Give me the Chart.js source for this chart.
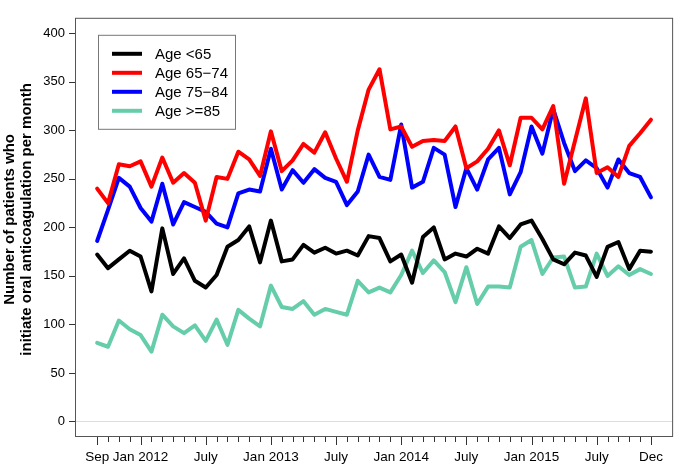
<!DOCTYPE html>
<html>
<head>
<meta charset="utf-8">
<script src="https://cdn.jsdelivr.net/npm/chart.js@4/dist/chart.umd.min.js"></script>
<style>
  html, body { margin: 0; padding: 0; background: #fff; }
</style>
</head>
<body>
<canvas id="myChart" width="675" height="464"></canvas>
<script>
// Monthly counts, Sep 2011 .. Dec 2015 (52 months)
var ageUnder65 = [172,158,167,176,170,134,199,152,168,145, 138,151,180,187,201,164,207,165,167,182,
                  174,179,173,176,171,191,189,165,172,143, 190,200,167,173,170,178,173,201,189,203,
                  207,188,167,162,174,171,149,180,185,157, 176,175];
var age65to74 = [240,225,265,263,268,242,272,246,256,246, 207,252,250,278,270,253,299,258,269,286,
                 277,298,271,247,300,342,363,301,304,283, 289,290,289,304,261,268,281,300,264,313,
                 313,301,325,245,289,333,256,262,252,284, 297,311];
var age75to84 = [186,218,251,242,220,206,245,203,226,221, 216,204,200,235,239,237,281,239,259,246,
                 260,251,247,223,237,275,252,249,306,241, 247,282,275,221,261,239,270,282,234,257,
                 304,276,322,287,258,269,261,241,270,256, 252,231];
var age85plus = [81,77,104,95,89,72,110,98,91,99, 83,105,79,115,106,98,140,118,116,124,
                 110,116,113,110,145,133,138,133,151,176, 153,166,154,123,159,121,139,139,138,180,
                 187,152,169,170,138,139,173,150,160,151, 157,152];

var seriesNames = ['Age <65', 'Age 65\u221274', 'Age 75\u221284', 'Age >=85'];
var seriesColors = ['#000000', '#ff0000', '#0000ff', '#66cdaa'];

// month index of labelled ticks (0 = Sep 2011)
var tickMonths = [0, 4, 10, 16, 22, 28, 34, 40, 46, 51];
var tickLabels = ['Sep', 'Jan 2012', 'July', 'Jan 2013', 'July', 'Jan 2014', 'July', 'Jan 2015', 'July', 'Dec'];
var yTicks = [0, 50, 100, 150, 200, 250, 300, 350, 400];

var FONT = '"Liberation Sans", Arial, sans-serif';

function pts(arr) {
    return arr.map(function (v, i) { return { x: i, y: v }; });
}

var allSeries = [ageUnder65, age65to74, age75to84, age85plus];

// box, tick marks, axis title and legend
var decorations = {
    id: 'decorations',
    afterDraw: function (chart) {
        var ctx = chart.ctx;
        var a = chart.chartArea;
        var xs = chart.scales.x, ys = chart.scales.y;
        ctx.save();
        ctx.strokeStyle = '#555';
        ctx.lineWidth = 1;
        ctx.strokeRect(a.left + 0.5, a.top + 0.5, a.right - a.left - 1, a.bottom - a.top - 1);

        // x ticks: long for labelled months, short for the others
        ctx.strokeStyle = '#333';
        ageUnder65.forEach(function (v, i) {
            var px = Math.round(xs.getPixelForValue(i)) + 0.5;
            var len = tickMonths.indexOf(i) >= 0 ? 8 : 5;
            ctx.beginPath();
            ctx.moveTo(px, a.bottom);
            ctx.lineTo(px, a.bottom + len);
            ctx.stroke();
        });
        // y ticks
        yTicks.forEach(function (v) {
            var py = Math.round(ys.getPixelForValue(v)) + 0.5;
            ctx.beginPath();
            ctx.moveTo(a.left - 6, py);
            ctx.lineTo(a.left, py);
            ctx.stroke();
        });

        // y axis title
        ctx.fillStyle = '#000';
        ctx.font = 'bold 15px ' + FONT;
        ctx.textAlign = 'center';
        ctx.textBaseline = 'middle';
        var cy = (a.top + a.bottom) / 2 - 8;
        ctx.save();
        ctx.translate(10, cy);
        ctx.rotate(-Math.PI / 2);
        ctx.fillText('Number of patients who', 0, 0);
        ctx.restore();
        ctx.save();
        ctx.translate(27, cy);
        ctx.rotate(-Math.PI / 2);
        ctx.fillText('initiate oral anticoagulation per month', 0, 0);
        ctx.restore();

        // legend
        var lx = a.left + 23, ly = a.top + 17;
        ctx.fillStyle = '#fff';
        ctx.fillRect(lx, ly, 137, 94);
        ctx.strokeStyle = '#777';
        ctx.strokeRect(lx + 0.5, ly + 0.5, 137, 94);
        ctx.font = '15px ' + FONT;
        ctx.textAlign = 'left';
        chart.data.datasets.forEach(function (ds, k) {
            var ry = ly + 19 + k * 19;
            ctx.strokeStyle = ds.borderColor;
            ctx.lineWidth = 4;
            ctx.beginPath();
            ctx.moveTo(lx + 14, ry);
            ctx.lineTo(lx + 44, ry);
            ctx.stroke();
            ctx.fillStyle = '#000';
            ctx.fillText(ds.label, lx + 57, ry + 1);
        });
        ctx.restore();
    }
};

var ctx = document.getElementById('myChart').getContext('2d');
var myChart = new Chart(ctx, {
    type: 'line',
    data: {
        datasets: allSeries.map(function (arr, k) {
            return {
                label: seriesNames[k],
                data: pts(arr),
                borderColor: seriesColors[k],
                borderWidth: 4,
                pointRadius: 0,
                tension: 0,
                borderCapStyle: 'round',
                borderJoinStyle: 'round',
                fill: false
            };
        })
    },
    options: {
        responsive: false,
        animation: false,
        layout: { padding: { top: 0, right: 1, bottom: 0, left: 0 } },
        plugins: {
            legend: { display: false },
            tooltip: { enabled: false }
        },
        scales: {
            x: {
                type: 'linear',
                min: -2.04,
                max: 53.04,
                afterBuildTicks: function (scale) {
                    scale.ticks = ageUnder65.map(function (v, i) { return { value: i }; });
                },
                afterFit: function (scale) { scale.height = 27; },
                ticks: {
                    autoSkip: false,
                    maxRotation: 0,
                    padding: 12,
                    color: '#000',
                    font: { family: FONT, size: 13.5 },
                    callback: function (value) {
                        var k = tickMonths.indexOf(value);
                        return k >= 0 ? tickLabels[k] : '';
                    }
                },
                grid: { display: false, drawTicks: false },
                border: { display: false }
            },
            y: {
                type: 'linear',
                min: -16,
                max: 416,
                afterBuildTicks: function (scale) {
                    scale.ticks = yTicks.map(function (v) { return { value: v }; });
                },
                afterFit: function (scale) { scale.width = 75; },
                ticks: {
                    padding: 10,
                    color: '#000',
                    font: { family: FONT, size: 13 }
                },
                grid: {
                    drawTicks: false,
                    color: function (c) { return c.tick && c.tick.value === 0 ? '#dddddd' : 'rgba(0,0,0,0)'; }
                },
                border: { display: false }
            }
        }
    },
    plugins: [decorations]
});
</script>
</body>
</html>
